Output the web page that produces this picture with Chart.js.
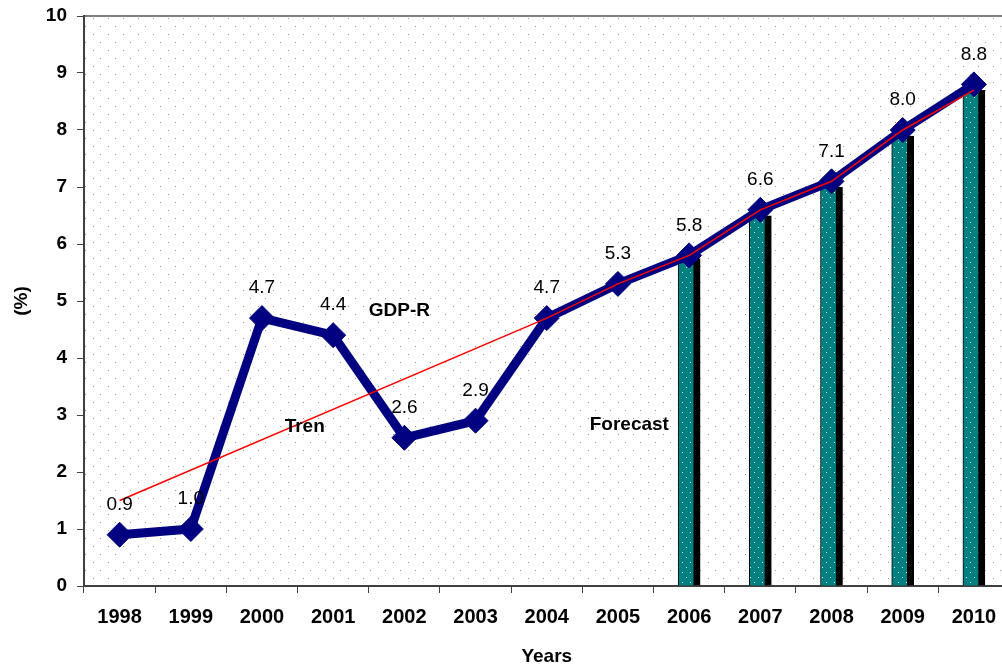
<!DOCTYPE html>
<html>
<head>
<meta charset="utf-8">
<script src="https://cdn.jsdelivr.net/npm/chart.js@4.4.1/dist/chart.umd.min.js"></script>
<style>
  html, body { margin: 0; padding: 0; background: #fff; overflow: hidden; }
  canvas { display: block; }
</style>
</head>
<body>
<canvas id="gdpChart" width="1023" height="666"></canvas>
<script>
// Real GDP growth, 1998-2010 (2006 onwards are forecasts)
const years = ['1998', '1999', '2000', '2001', '2002', '2003', '2004', '2005', '2006', '2007', '2008', '2009', '2010'];
const gdpR = [0.9, 1.0, 4.7, 4.4, 2.6, 2.9, 4.7, 5.3, 5.8, 6.6, 7.1, 8.0, 8.8];
const trend = [1.5, null, null, null, null, null, 4.7, 5.3, 5.8, 6.6, 7.1, 8.0, 8.7];
const forecast = [null, null, null, null, null, null, null, null, 5.75, 6.5, 7.0, 7.9, 8.7];
const yTicks = [0, 1, 2, 3, 4, 5, 6, 7, 8, 9, 10];

// free text placed at (category index, value)
const notes = [
    {text: 'GDP-R', at: 3.93, value: 4.82},
    {text: 'Tren', at: 2.6, value: 2.79},
    {text: 'Forecast', at: 7.16, value: 2.82},
];

const FONT = "'Liberation Sans', Arial, sans-serif";
const canvas = document.getElementById('gdpChart');
const ctx = canvas.getContext('2d');

function dotPattern(bg, dot, w, h, spots) {
    const c = document.createElement('canvas');
    c.width = w;
    c.height = h;
    const g = c.getContext('2d');
    if (bg) {
        g.fillStyle = bg;
        g.fillRect(0, 0, w, h);
    }
    g.fillStyle = dot;
    spots.forEach(([x, y]) => g.fillRect(x, y, 1, 1));
    return ctx.createPattern(c, 'repeat');
}

const plotDots = dotPattern(null, '#9a9a9a', 15, 16, [[3, 2], [10, 10]]);
const barDots = dotPattern('#008080', '#e8f4f4', 8, 10, [[2, 2], [6, 7]]);

const plotBackground = {
    id: 'plotBackground',
    beforeDraw(chart) {
        const {left, top, right, bottom} = chart.chartArea;
        const c = chart.ctx;
        c.save();
        c.fillStyle = plotDots;
        c.fillRect(left, top, right - left, bottom - top);
        c.strokeStyle = '#808080';
        c.lineWidth = 2;
        c.beginPath();
        c.moveTo(left, top);
        c.lineTo(right, top);
        c.stroke();
        c.restore();
    }
};

const labelsAndNotes = {
    id: 'labelsAndNotes',
    afterDatasetsDraw(chart) {
        const c = chart.ctx;
        const meta = chart.getDatasetMeta(1);
        c.save();
        c.fillStyle = '#000';
        c.textAlign = 'center';
        c.textBaseline = 'middle';
        c.font = '19px ' + FONT;
        meta.data.forEach((pt, i) => {
            c.fillText(gdpR[i].toFixed(1), pt.x, pt.y - 30);
        });
        c.font = 'bold 19px ' + FONT;
        const xs = chart.scales.x, ys = chart.scales.y;
        notes.forEach(n => {
            c.fillText(n.text, xs.getPixelForValue(n.at), ys.getPixelForValue(n.value));
        });
        c.restore();
    }
};

new Chart(ctx, {
    type: 'bar',
    data: {
        labels: years,
        datasets: [
            {
                type: 'line',
                label: 'Tren',
                data: trend,
                borderColor: '#ff0000',
                borderWidth: 1.5,
                pointRadius: 0,
                spanGaps: true,
                order: 0
            },
            {
                type: 'line',
                label: 'GDP-R',
                data: gdpR,
                borderColor: '#000080',
                backgroundColor: '#000080',
                borderWidth: 9,
                pointStyle: 'rectRot',
                pointRadius: 12.5,
                pointBorderWidth: 1,
                order: 1
            },
            {
                label: 'Forecast',
                data: forecast,
                backgroundColor: barDots,
                borderColor: '#000',
                borderWidth: {left: 1, right: 7, top: 0, bottom: 0},
                borderSkipped: false,
                barThickness: 22,
                order: 2
            }
        ]
    },
    options: {
        responsive: false,
        animation: false,
        layout: {padding: {top: 16, right: 0, bottom: 0, left: 0}},
        plugins: {
            legend: {display: false},
            tooltip: {enabled: false}
        },
        scales: {
            x: {
                offset: true,
                grid: {offset: true, drawOnChartArea: false, tickLength: 7, color: '#404040'},
                border: {color: '#404040', width: 2},
                ticks: {
                    font: {family: FONT, size: 20, weight: 'bold'},
                    color: '#000',
                    padding: 12,
                    maxRotation: 0,
                    autoSkip: false
                },
                title: {
                    display: true,
                    text: 'Years',
                    color: '#000',
                    font: {family: FONT, size: 19, weight: 'bold'},
                    padding: {top: 0, bottom: -2}
                },
                afterFit(scale) {
                    scale.height = 80;
                    scale.paddingLeft = 0;
                    scale.paddingRight = 0;
                }
            },
            y: {
                min: yTicks[0],
                max: yTicks[yTicks.length - 1],
                grid: {drawOnChartArea: false, tickLength: 7, color: '#404040'},
                border: {color: '#404040', width: 2},
                ticks: {
                    stepSize: 1,
                    font: {family: FONT, size: 19, weight: 'bold'},
                    color: '#000',
                    padding: 10
                },
                afterBuildTicks(scale) { scale.ticks = yTicks.map(v => ({value: v})); },
                title: {
                    display: true,
                    text: '(%)',
                    color: '#000',
                    font: {family: FONT, size: 19, weight: 'bold'},
                    padding: {top: 10, bottom: 0}
                },
                afterFit(scale) {
                    scale.width = 84;
                    scale.paddingTop = 0;
                    scale.paddingBottom = 0;
                }
            }
        }
    },
    plugins: [plotBackground, labelsAndNotes]
});
</script>
</body>
</html>
